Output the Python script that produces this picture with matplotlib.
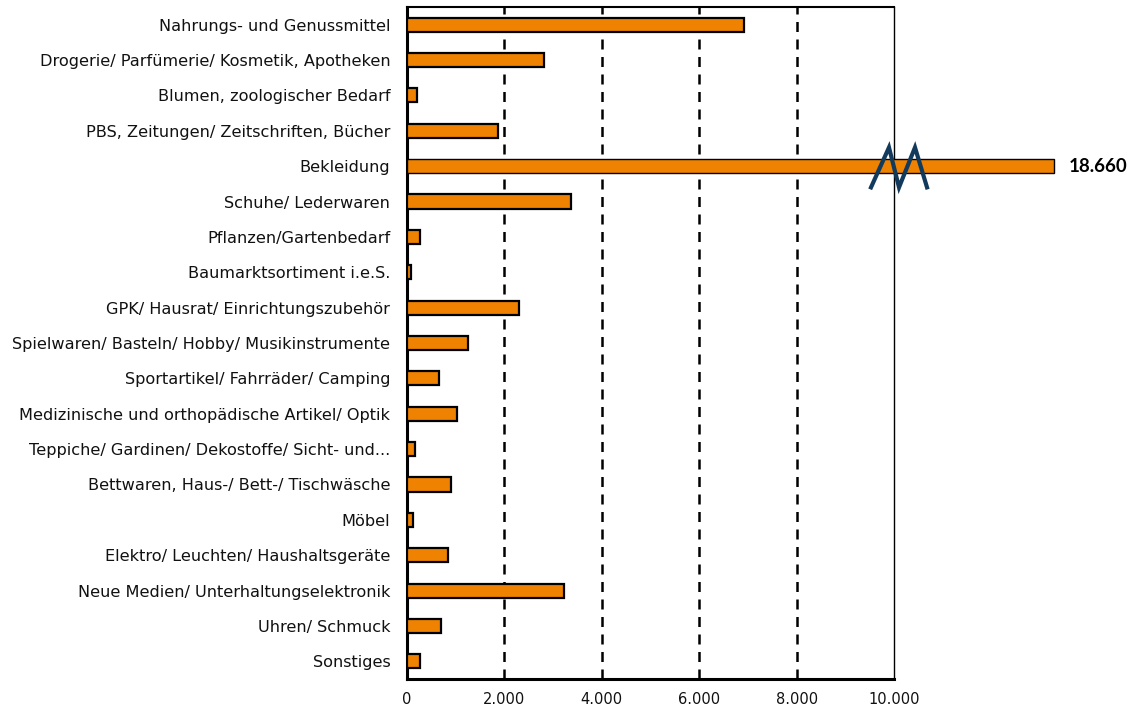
import numpy as np
import matplotlib
matplotlib.use("Agg")
import matplotlib.pyplot as plt

categories = [
    "Nahrungs- und Genussmittel",
    "Drogerie/ Parfümerie/ Kosmetik, Apotheken",
    "Blumen, zoologischer Bedarf",
    "PBS, Zeitungen/ Zeitschriften, Bücher",
    "Bekleidung",
    "Schuhe/ Lederwaren",
    "Pflanzen/Gartenbedarf",
    "Baumarktsortiment i.e.S.",
    "GPK/ Hausrat/ Einrichtungszubehör",
    "Spielwaren/ Basteln/ Hobby/ Musikinstrumente",
    "Sportartikel/ Fahrräder/ Camping",
    "Medizinische und orthopädische Artikel/ Optik",
    "Teppiche/ Gardinen/ Dekostoffe/ Sicht- und...",
    "Bettwaren, Haus-/ Bett-/ Tischwäsche",
    "Möbel",
    "Elektro/ Leuchten/ Haushaltsgeräte",
    "Neue Medien/ Unterhaltungselektronik",
    "Uhren/ Schmuck",
    "Sonstiges",
]
values = [6920, 2810, 205, 1870, 18660, 3370, 273, 88, 2306, 1259,
          663, 1033, 170, 903, 130, 835, 3224, 690, 260]
x_ticks = [0, 2000, 4000, 6000, 8000, 10000]
x_ticklabels = ["0", "2.000", "4.000", "6.000", "8.000", "10.000"]

# styling / layout constants
AXIS_MAX = 10000
BROKEN_DRAW_LEN = 13290   # drawn length of bars that exceed the axis (broken scale)
BAR_COLOR = "#EF8200"
BREAK_COLOR = "#123A5C"

fig = plt.figure(figsize=(11.34, 7.08), dpi=100)
ax = fig.add_axes([407/1134, 1-679/708, (894-407)/1134, (679-7)/708])

vals = np.array(values, dtype=float)
ypos = np.arange(len(categories))
draw = np.where(vals > AXIS_MAX, BROKEN_DRAW_LEN, vals)

bars = ax.barh(ypos, draw, height=0.40, color=BAR_COLOR, edgecolor="black",
               linewidth=1.6, zorder=3)
for b, v in zip(bars, vals):
    if v > AXIS_MAX:
        b.set_clip_on(False)
        b.set_linewidth(1.0)
        ax.text(BROKEN_DRAW_LEN + 290, b.get_y() + b.get_height()/2,
                f"{v:,.0f}".replace(",", "."), va="center", ha="left",
                fontsize=13.5, fontweight="bold", family="Lato", color="black",
                clip_on=False)
        yc = b.get_y() + b.get_height()/2
        zx = [9528, 9897, 10103, 10431, 10678]
        zy = [yc + 0.60, yc - 0.53, yc + 0.60, yc - 0.53, yc + 0.60]
        ax.plot(zx, zy, color=BREAK_COLOR, lw=3, clip_on=False, zorder=5,
                solid_joinstyle="miter")

ax.set_xlim(0, AXIS_MAX)
ax.set_ylim(len(categories) - 0.5, -0.5)

for xv in x_ticks[1:-1]:
    ax.axvline(xv, color="black", lw=1.8, ls=(0, (4, 3)), zorder=1)

ax.set_xticks(x_ticks)
ax.set_xticklabels(x_ticklabels, family="DejaVu Sans", fontsize=10.5, color="#111111")
ax.set_yticks(ypos)
ax.set_yticklabels(categories, family="DejaVu Sans", fontsize=11.6, color="#111111")
ax.tick_params(axis="both", length=0)
ax.tick_params(axis="y", pad=12)
ax.tick_params(axis="x", pad=9)

ax.spines["left"].set_linewidth(2.2)
ax.spines["bottom"].set_linewidth(2.2)
ax.spines["top"].set_linewidth(1.5)
ax.spines["right"].set_linewidth(1.0)
for s in ax.spines.values():
    s.set_color("black")

fig.savefig("out.png", dpi=100)
